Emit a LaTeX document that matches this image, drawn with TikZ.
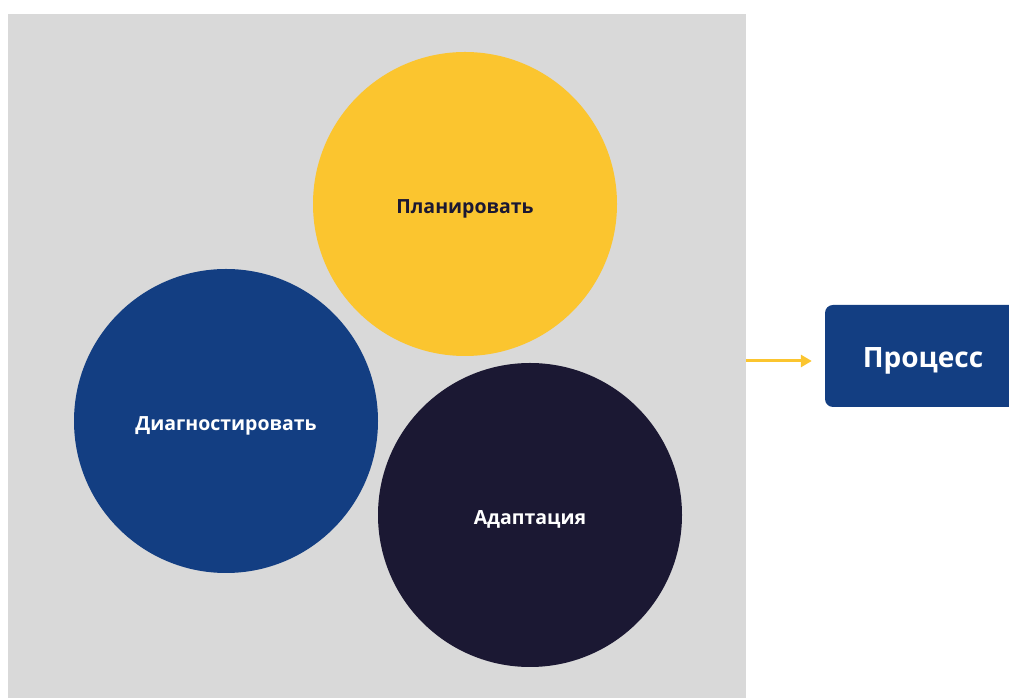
\documentclass[tikz,border=0pt]{standalone}
\usepackage{fontspec}
\setmainfont{Open Sans}
\usetikzlibrary{arrows.meta,positioning}
\definecolor{panelgray}{HTML}{D9D9D9}
\definecolor{sunyellow}{HTML}{FBC52F}
\definecolor{deepblue}{HTML}{133E82}
\definecolor{nightblue}{HTML}{1B1833}

\begin{document}
\begin{tikzpicture}[x=1pt,y=1pt,
    bubble/.style={circle, minimum size=304pt, inner sep=0pt, text height=20pt, text depth=0pt, font=\bfseries\fontsize{19.5}{22}\selectfont},
    flow/.style={draw=sunyellow, line width=3pt, -{Triangle[length=11pt,width=12pt]}}]
    \clip (0,0) rectangle (1009,698);
    \useasboundingbox (0,0) rectangle (1009,698);

    \node[fill=panelgray, minimum width=738pt, minimum height=684pt, inner sep=0pt] (panel) at (377,342) {};

    \node[bubble, fill=sunyellow, text=nightblue] (plan) at (465,494) {Планировать};
    \node[bubble, fill=deepblue, text=white] (diag) at (226,277) {Диагностировать};
    \node[bubble, fill=nightblue, text=white] (adapt) at (530,183) {Адаптация};

    \node[fill=deepblue, text=white, rounded corners=8pt, minimum width=196pt, minimum height=102pt,
        text height=24pt, text depth=0pt, font=\bfseries\fontsize{28}{32}\selectfont] (process) at (923,342) {Процесс};

    \coordinate (out) at (panel.east |- 0,337);
    \draw[flow, shorten >=13pt] (out) -- (out -| process.west);

  \end{tikzpicture}
\end{document}
